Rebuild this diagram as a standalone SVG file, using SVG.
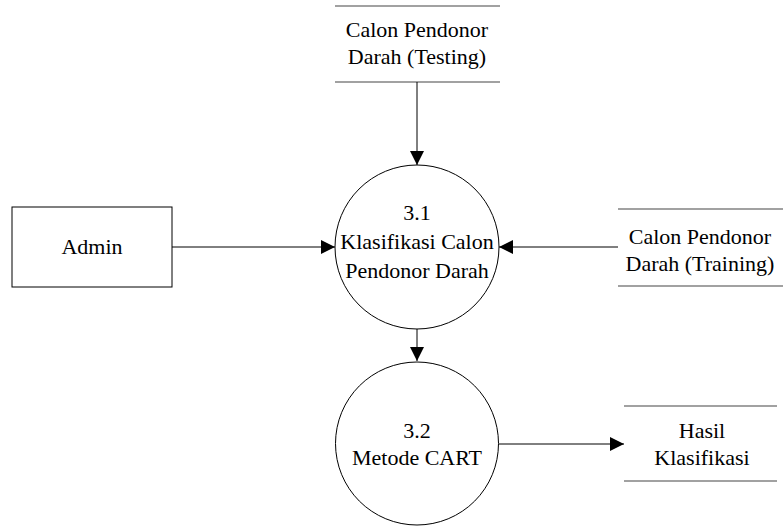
<svg xmlns="http://www.w3.org/2000/svg" width="783" height="526" viewBox="0 0 783 526">
<defs>
<marker id="arr" markerUnits="userSpaceOnUse" viewBox="0 0 14 14" refX="14" refY="7" markerWidth="14" markerHeight="14" orient="auto">
<path d="M0,0 L14,7 L0,14 Z" fill="#000"/>
</marker>
</defs>
<rect width="783" height="526" fill="#fff"/>
<g id="store-testing">
<line x1="335" y1="6" x2="500" y2="6" stroke="#444" stroke-width="1.2"/>
<line x1="335" y1="82" x2="500" y2="82" stroke="#444" stroke-width="1.2"/>
<text x="417" y="37" font-family="Liberation Serif" font-size="22" text-anchor="middle">Calon Pendonor</text>
<text x="417" y="64" font-family="Liberation Serif" font-size="22" text-anchor="middle">Darah (Testing)</text>
</g>
<g id="admin">
<rect x="12" y="207" width="160" height="80" fill="#fff" stroke="#000"/>
<text x="92" y="254" font-family="Liberation Serif" font-size="22" text-anchor="middle">Admin</text>
</g>
<g id="process-3-1">
<circle cx="417" cy="247" r="82" fill="#fff" stroke="#000"/>
<text x="417" y="220" font-family="Liberation Serif" font-size="22" text-anchor="middle">3.1</text>
<text x="417" y="249" font-family="Liberation Serif" font-size="22" text-anchor="middle">Klasifikasi Calon</text>
<text x="417" y="278" font-family="Liberation Serif" font-size="22" text-anchor="middle">Pendonor Darah</text>
</g>
<g id="store-training">
<line x1="618" y1="209" x2="783" y2="209" stroke="#444" stroke-width="1.2"/>
<line x1="618" y1="286" x2="783" y2="286" stroke="#444" stroke-width="1.2"/>
<text x="700" y="244" font-family="Liberation Serif" font-size="22" text-anchor="middle">Calon Pendonor</text>
<text x="700" y="271" font-family="Liberation Serif" font-size="22" text-anchor="middle">Darah (Training)</text>
</g>
<g id="process-3-2">
<circle cx="417" cy="443.5" r="81.5" fill="#fff" stroke="#000"/>
<text x="417" y="438" font-family="Liberation Serif" font-size="22" text-anchor="middle">3.2</text>
<text x="417" y="465" font-family="Liberation Serif" font-size="22" text-anchor="middle">Metode CART</text>
</g>
<g id="store-hasil">
<line x1="624" y1="406" x2="777" y2="406" stroke="#444" stroke-width="1.2"/>
<line x1="624" y1="481" x2="777" y2="481" stroke="#444" stroke-width="1.2"/>
<text x="702" y="438" font-family="Liberation Serif" font-size="22" text-anchor="middle">Hasil</text>
<text x="702" y="465" font-family="Liberation Serif" font-size="22" text-anchor="middle">Klasifikasi</text>
</g>
<g id="connectors">
<line x1="417" y1="82" x2="417" y2="165" stroke="#000" marker-end="url(#arr)"/>
<line x1="172" y1="247" x2="335" y2="247" stroke="#000" marker-end="url(#arr)"/>
<line x1="618" y1="247" x2="499" y2="247" stroke="#000" marker-end="url(#arr)"/>
<line x1="417" y1="329" x2="417" y2="361" stroke="#000" marker-end="url(#arr)"/>
<line x1="499" y1="444" x2="624" y2="444" stroke="#000" marker-end="url(#arr)"/>
</g>
</svg>
